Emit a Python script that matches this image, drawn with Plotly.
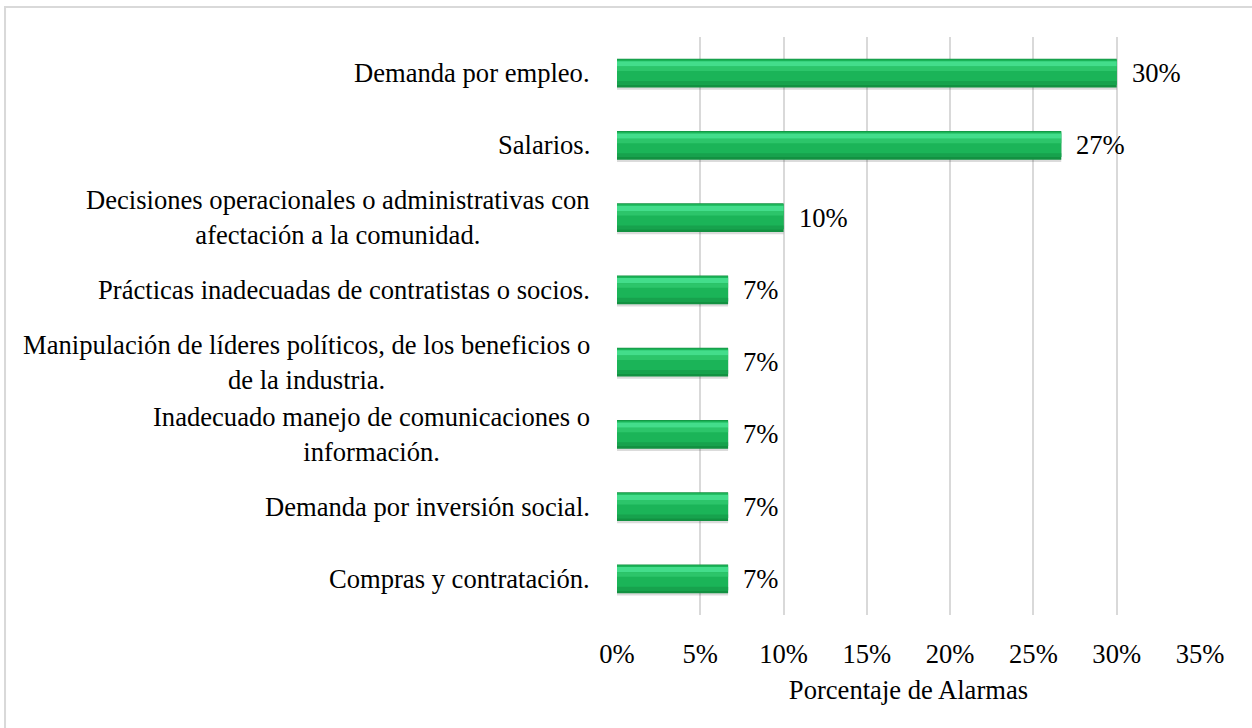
import plotly.graph_objects as go

# ── Data ──────────────────────────────────────────────────────────────────────
categorias = [
    "Demanda por empleo.",
    "Salarios.",
    "Decisiones operacionales o administrativas con<br>afectación a la comunidad.",
    "Prácticas inadecuadas de contratistas o socios.",
    "Manipulación de líderes políticos, de los beneficios o<br>de la industria.",
    "Inadecuado manejo de comunicaciones o<br>información.",
    "Demanda por inversión social.",
    "Compras y contratación.",
]
porcentajes = [30.0, 26.67, 10.0, 6.67, 6.67, 6.67, 6.67, 6.67]
etiquetas = [f"{v:.0f}%" for v in porcentajes]
x_ticks = [0, 5, 10, 15, 20, 25, 30, 35]
x_tick_text = [f"{t}%" for t in x_ticks]

FONT = "Liberation Serif"
SIZE = 26.6
GRID = "#d9d9d9"

fig = go.Figure()

# bevelled green bar built from stacked overlay layers
_layers = [
    dict(offset=-0.17, width=0.4, color="rgba(0,0,0,0.14)"),   # shadow
    dict(offset=-0.2, width=0.4, color="#129141"),             # dark edge
    dict(offset=-0.188, width=0.35, color="#1bb458"),          # body
    dict(offset=-0.165, width=0.075, color="#43dd8b"),         # top highlight
    dict(offset=-0.09, width=0.06, color="#2cc56a"),           # highlight fade
    dict(offset=0.11, width=0.05, color="#17a24d"),            # lower shade
]
for lay in _layers:
    fig.add_trace(go.Bar(
        x=porcentajes, y=categorias, orientation="h",
        offset=lay["offset"], width=lay["width"],
        marker=dict(color=lay["color"], line=dict(width=0)),
        hoverinfo="skip", showlegend=False,
    ))

# value labels
for cat, val, lab in zip(categorias, porcentajes, etiquetas):
    fig.add_annotation(x=val, y=cat, text=lab, showarrow=False,
                       xanchor="left", xshift=13,
                       font=dict(family=FONT, size=SIZE, color="#000"))

# category labels (centered lines, right aligned block)
for cat in categorias:
    fig.add_annotation(x=0, xref="paper", y=cat, text=cat, showarrow=False,
                       xanchor="right", xshift=-25, align="center",
                       font=dict(family=FONT, size=SIZE, color="#000"))

# outer chart border
fig.add_shape(type="rect", xref="paper", yref="paper",
              x0=-1.0497, x1=1.1, y0=-0.21, y1=1.0519,
              line=dict(color=GRID, width=2), fillcolor="rgba(0,0,0,0)",
              layer="below")

fig.update_layout(
    width=1252, height=728,
    paper_bgcolor="white", plot_bgcolor="white",
    barmode="overlay",
    margin=dict(l=617, r=52, t=37, b=113),
    font=dict(family=FONT, size=SIZE, color="#000"),
    xaxis=dict(range=[0, 35], tickvals=x_ticks, ticktext=x_tick_text,
               showgrid=True, gridcolor=GRID, gridwidth=2,
               zeroline=False, showline=False, ticks="",
               ticklabelstandoff=20,
               tickfont=dict(family=FONT, size=SIZE),
               title=dict(text="Porcentaje de Alarmas", standoff=12,
                          font=dict(family=FONT, size=SIZE))),
    yaxis=dict(autorange="reversed", showticklabels=False, showgrid=False,
               zeroline=False, ticks=""),
)

fig.write_html("out.html", config={"displayModeBar": False},
               post_script="document.body.style.margin='0';")
